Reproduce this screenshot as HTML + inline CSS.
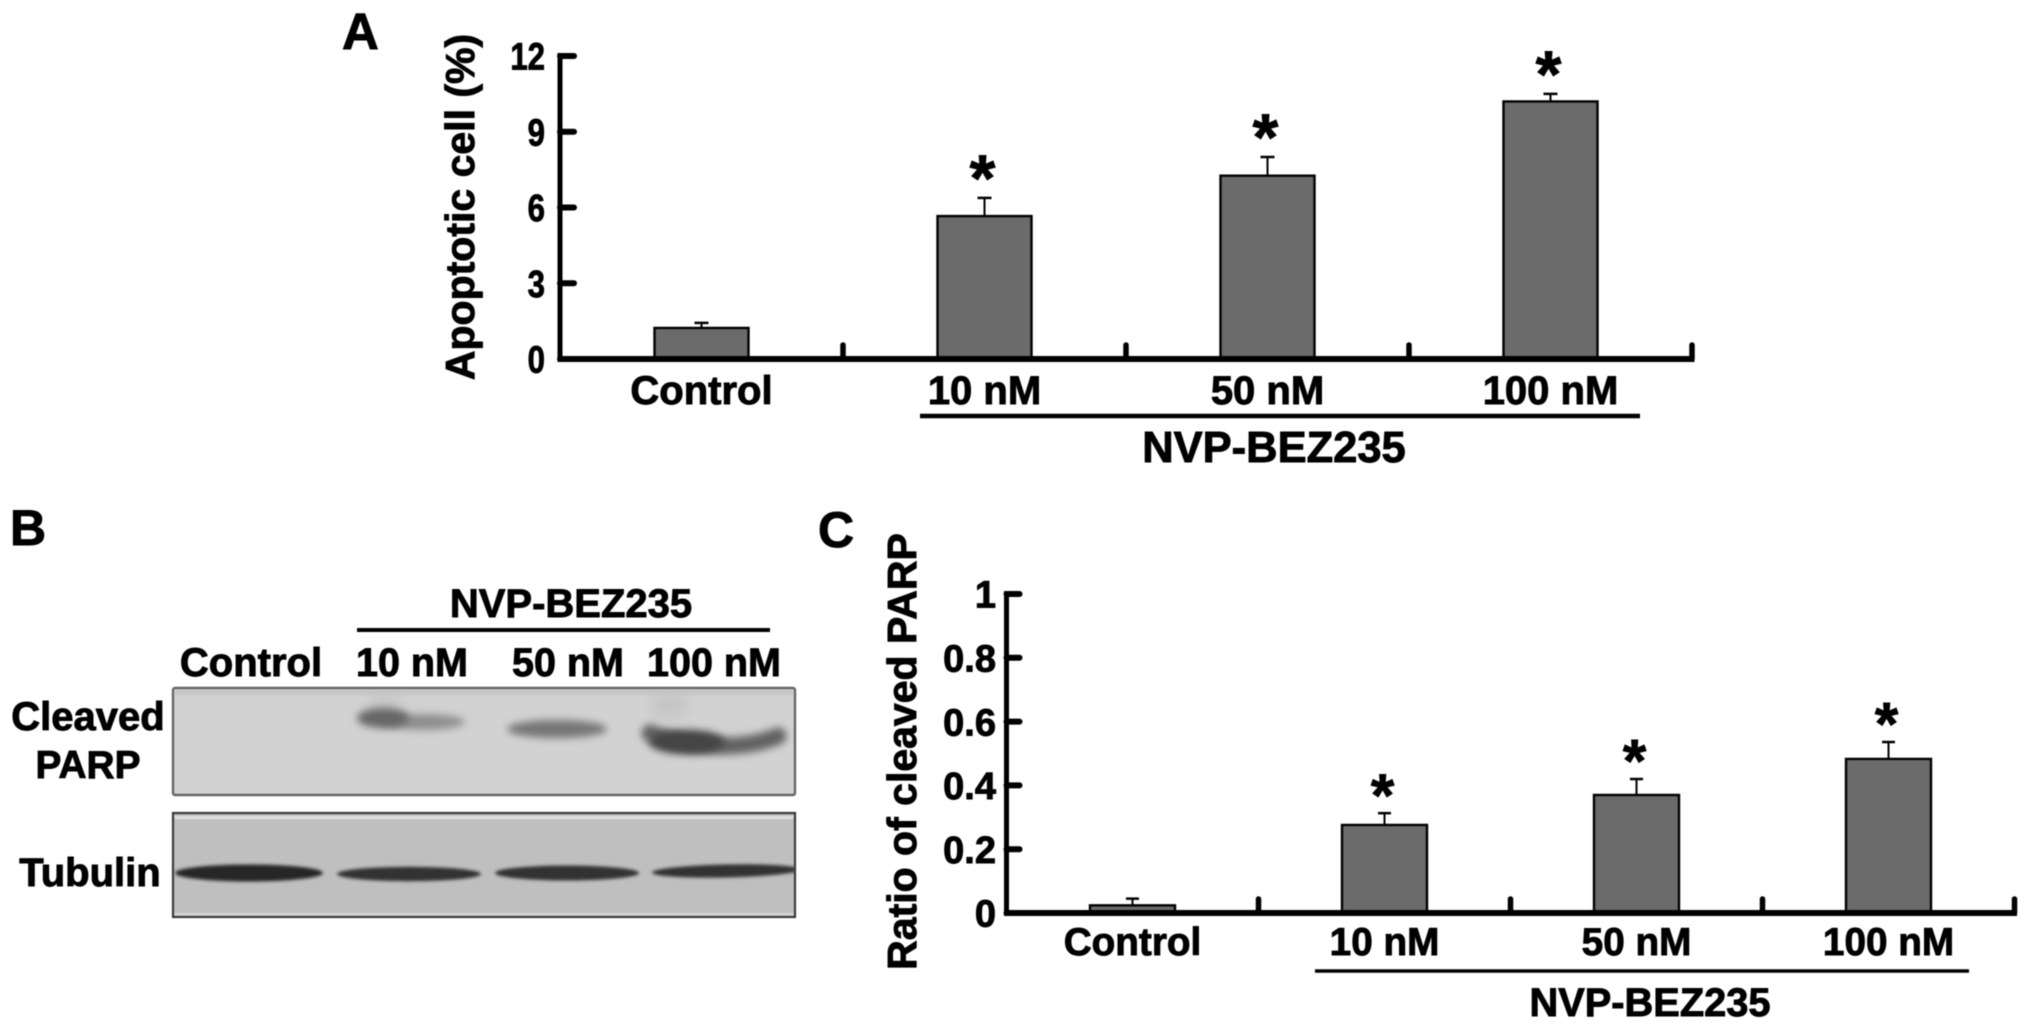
<!DOCTYPE html>
<html lang="en">
<head>
<meta charset="utf-8">
<title>NVP-BEZ235 apoptosis figure</title>
<style>
  html, body { margin: 0; padding: 0; background: #fff; }
  body { width: 2031px; height: 1031px; overflow: hidden; }
  svg { display: block; filter: blur(0.6px); }
  text { font-family: "Liberation Sans", sans-serif; font-weight: 700; fill: #000; stroke: #000; stroke-width: 0.9px; }
</style>
</head>
<body>
<svg id="figure" xmlns="http://www.w3.org/2000/svg" width="2031" height="1031" viewBox="0 0 2031 1031">
  <defs>
    <filter id="blur-soft" x="-30%" y="-150%" width="160%" height="400%"><feGaussianBlur stdDeviation="4"></feGaussianBlur></filter>
    <filter id="blur-wide" x="-40%" y="-150%" width="180%" height="400%"><feGaussianBlur stdDeviation="6"></feGaussianBlur></filter>
    <filter id="blur-edge" x="-10%" y="-100%" width="120%" height="300%"><feGaussianBlur stdDeviation="1.5"></feGaussianBlur></filter>
  </defs>

  <text x="342" y="49" font-size="51">A</text>
  <text x="10" y="545" font-size="50">B</text>
  <text x="818" y="547" font-size="50">C</text>

  <g id="chart-a"></g>
  <g id="chart-c"></g>

  <g id="panel-b">
    <text x="571" y="617" font-size="40" text-anchor="middle">NVP-BEZ235</text>
    <line x1="357" y1="630" x2="770" y2="630" stroke="#000" stroke-width="4"></line>
    <text x="251" y="676" font-size="40" text-anchor="middle">Control</text>
    <text x="412" y="676" font-size="39.5" text-anchor="middle">10 nM</text>
    <text x="568" y="676" font-size="39.5" text-anchor="middle">50 nM</text>
    <text x="714" y="676" font-size="39.5" text-anchor="middle">100 nM</text>
    <text x="88" y="730" font-size="40" text-anchor="middle">Cleaved</text>
    <text x="88" y="778" font-size="38.8" text-anchor="middle">PARP</text>
    <text x="90" y="886" font-size="40" text-anchor="middle">Tubulin</text>

    <g>
      <rect x="173" y="688" width="622" height="107" rx="2" fill="#d2d2d2" stroke="#666" stroke-width="2.4"></rect>
      <clipPath id="clip-top"><rect x="174" y="689" width="620" height="105"></rect></clipPath>
      <g clip-path="url(#clip-top)">
        <rect x="174" y="689" width="620" height="6" fill="#c4c4c4" filter="url(#blur-edge)"></rect>
        <ellipse cx="385" cy="703" rx="18" ry="8" fill="#c4c4c4" filter="url(#blur-wide)"></ellipse>
        <ellipse cx="670" cy="705" rx="20" ry="14" fill="#c6c6c6" filter="url(#blur-wide)"></ellipse>
        <ellipse cx="423" cy="722" rx="42" ry="8" fill="#8e8e8e" filter="url(#blur-soft)"></ellipse>
        <ellipse cx="383" cy="718" rx="26" ry="10" fill="#666" filter="url(#blur-soft)"></ellipse>
        <ellipse cx="557" cy="729" rx="50" ry="9" fill="#767676" filter="url(#blur-soft)"></ellipse>
        <path d="M650 733 Q680 745 720 746 Q755 746 778 736" fill="none" stroke="#626262" stroke-width="17" stroke-linecap="round" filter="url(#blur-soft)"></path>
        <ellipse cx="687" cy="742" rx="38" ry="12" fill="#454545" filter="url(#blur-soft)"></ellipse>
      </g>
    </g>

    <g>
      <rect x="173" y="813" width="622" height="104" fill="#bfbfbf" stroke="#3c3c3c" stroke-width="2.2"></rect>
      <rect x="174.500" y="816" width="619" height="3" fill="#dedede"></rect>
      <rect x="174.500" y="913" width="619" height="2.500" fill="#d6d6d6"></rect>
      <clipPath id="clip-bottom"><rect x="174" y="814" width="620" height="102"></rect></clipPath>
      <g clip-path="url(#clip-bottom)">
        <ellipse cx="249" cy="873" rx="74" ry="8.500" fill="#262626" filter="url(#blur-edge)"></ellipse>
        <ellipse cx="409" cy="874" rx="72" ry="7.200" fill="#303030" filter="url(#blur-edge)"></ellipse>
        <ellipse cx="567" cy="873" rx="72" ry="7.500" fill="#303030" filter="url(#blur-edge)"></ellipse>
        <ellipse cx="726" cy="871" rx="74" ry="6.500" fill="#333" transform="rotate(-1.200 726 871)" filter="url(#blur-edge)"></ellipse>
      </g>
    </g>
  </g>
</svg>

<script>
const categoriesA = ["Control", "10 nM", "50 nM", "100 nM"];
const valuesA = [1.23, 5.66, 7.26, 10.2];
const errorsA = [0.2, 0.72, 0.74, 0.3];
const significantA = [false, true, true, true];
const yTicksA = [0, 3, 6, 9, 12];
const yTickLabelsA = ["0", "3", "6", "9", "12"];

const categoriesC = ["Control", "10 nM", "50 nM", "100 nM"];
const valuesC = [0.024, 0.276, 0.37, 0.483];
const errorsC = [0.021, 0.037, 0.05, 0.053];
const significantC = [false, true, true, true];
const yTicksC = [0, 0.2, 0.4, 0.6, 0.8, 1];
const yTickLabelsC = ["0", "0.2", "0.4", "0.6", "0.8", "1"];

const SVG_NS = "http://www.w3.org/2000/svg";

function make(parent, tag, attrs, content) {
  const el = document.createElementNS(SVG_NS, tag);
  Object.keys(attrs).forEach(function (k) { el.setAttribute(k, attrs[k]); });
  if (content !== undefined) el.textContent = content;
  parent.appendChild(el);
  return el;
}

function slug(s) {
  return String(s).toLowerCase().replace(/[^a-z0-9]+/g, "-");
}

function drawBarChart(root, d, L) {
  const yScale = function (v) { return L.y0 + (L.yTop - L.y0) * (v - d.yMin) / (d.yMax - d.yMin); };
  const step = (L.xEnd - L.x0) / d.categories.length;
  const xCenter = function (i) { return L.x0 + step * (i + 0.5); };

  d.categories.forEach(function (cat, i) {
    const top = yScale(d.values[i]);
    const errTop = yScale(d.values[i] + d.errors[i]);
    const cx = xCenter(i);

    const stem = make(root, "line", { x1: cx, x2: cx, y1: top, y2: errTop, stroke: "#000", "stroke-width": 2 });
    
    

    const cap = make(root, "line", { x1: cx - L.capW / 2, x2: cx + L.capW / 2, y1: errTop, y2: errTop, stroke: "#000", "stroke-width": 2.5 });
    
    

    const bar = make(root, "rect", { x: cx - L.barW / 2, y: top, width: L.barW, height: L.y0 - top, fill: "#6b6b6b", stroke: "#000", "stroke-width": 2.4 });
    
    

    const label = make(root, "text", { x: cx, y: L.catBaseline, "font-size": L.catSize, "text-anchor": "middle" }, cat);
    
    

    if (d.significant[i]) {
      const star = make(root, "text", { x: cx - 2, y: errTop - L.starGap + L.starSize * 0.56, "font-size": L.starSize, "text-anchor": "middle" }, "*");
      
      
    }
  });

  const yAxis = make(root, "line", { x1: L.x0, x2: L.x0, y1: L.yTop - 3, y2: L.y0 + 3, stroke: "#000", "stroke-width": L.axisW });
  
  

  const xAxis = make(root, "line", { x1: L.x0 - L.axisW / 2, x2: L.xEnd + L.axisW / 2, y1: L.y0, y2: L.y0, stroke: "#000", "stroke-width": L.axisW + 1 });
  
  

  d.yTicks.forEach(function (t, i) {
    const y = yScale(t);
    const tick = make(root, "line", { x1: L.x0, x2: L.x0 + L.tickLen, y1: y, y2: y, stroke: "#000", "stroke-width": L.tickW, "stroke-linecap": "round" });
    
    

    const lab = make(root, "text", { "font-size": L.tickSize, "text-anchor": "end", transform: "translate(" + L.tickLabelRight + "," + (y + L.tickSize * 0.36) + ") scale(" + L.tickScaleX + ",1)" }, d.yTickLabels[i]);
    
    
  });

  for (let i = 1; i <= d.categories.length; i++) {
    const x = L.x0 + step * i;
    const tick = make(root, "line", { x1: x, x2: x, y1: L.y0, y2: L.y0 - L.xTickLen, stroke: "#000", "stroke-width": L.tickW - 0.5, "stroke-linecap": "round" });
    
    
  }

  const title = make(root, "text", { "font-size": L.titleSize, "text-anchor": "middle", transform: "translate(" + L.titleX + "," + L.titleY + ") rotate(-90)" }, d.title);
  
  

  const bracket = make(root, "line", { x1: L.brX1, x2: L.brX2, y1: L.brY, y2: L.brY, stroke: "#000", "stroke-width": L.brW });
  
  

  const treat = make(root, "text", { x: L.treatX, y: L.treatY, "font-size": L.treatSize, "text-anchor": "middle" }, "NVP-BEZ235");
  
  
}

drawBarChart(document.getElementById("chart-a"), {
  categories: categoriesA, values: valuesA, errors: errorsA, significant: significantA,
  yTicks: yTicksA, yTickLabels: yTickLabelsA, yMin: 0, yMax: 12, title: "Apoptotic cell (%)"
}, {
  x0: 560, xEnd: 1692, y0: 359, yTop: 56, barW: 94, capW: 14, axisW: 5, tickW: 6, tickLen: 14, xTickLen: 14,
  catBaseline: 404, catSize: 40, tickSize: 38, tickScaleX: 0.82, tickLabelRight: 545,
  starSize: 66, starGap: 34, titleSize: 41, titleX: 474, titleY: 207,
  brX1: 920, brX2: 1640, brY: 416, brW: 4.5, treatX: 1274, treatY: 462, treatSize: 43.5
});

drawBarChart(document.getElementById("chart-c"), {
  categories: categoriesC, values: valuesC, errors: errorsC, significant: significantC,
  yTicks: yTicksC, yTickLabels: yTickLabelsC, yMin: 0, yMax: 1, title: "Ratio of cleaved PARP"
}, {
  x0: 1006.5, xEnd: 2014.5, y0: 913, yTop: 594, barW: 85, capW: 13, axisW: 5, tickW: 6, tickLen: 13, xTickLen: 14,
  catBaseline: 955, catSize: 38.7, tickSize: 38, tickScaleX: 1, tickLabelRight: 996,
  starSize: 60, starGap: 31, titleSize: 41, titleX: 916, titleY: 751.5,
  brX1: 1315, brX2: 1969, brY: 971, brW: 3.5, treatX: 1650, treatY: 1016, treatSize: 39.8
});
</script>
</body>
</html>
